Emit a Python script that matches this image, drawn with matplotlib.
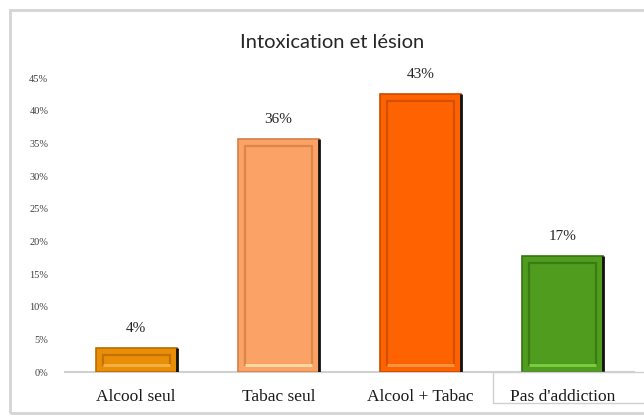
import matplotlib
matplotlib.use("Agg")
import matplotlib.pyplot as plt
from matplotlib.patches import Rectangle
import numpy as np

categories = ["Alcool seul", "Tabac seul", "Alcool + Tabac", "Pas d'addiction"]
values = [3.7, 35.7, 42.6, 17.8]
value_labels = ["4%", "36%", "43%", "17%"]
yticks = [0, 5, 10, 15, 20, 25, 30, 35, 40, 45]

face_colors = ["#EA8E08", "#FBA366", "#FF6200", "#4F9C1E"]
edge_colors = ["#B86C00", "#D47F45", "#C94C00", "#357510"]
light_colors = ["#F3B040", "#FFD9A0", "#FF9440", "#78CC40"]

W, H = 644, 416
fig = plt.figure(figsize=(W / 100, H / 100), dpi=100)

# outer chart border
fig.patches.append(Rectangle((10 / W, 3 / H), (W + 20) / W, (H - 13) / H,
                             transform=fig.transFigure, fill=False,
                             edgecolor="#D4D4D4", linewidth=2.0, zorder=0))

ax = fig.add_axes([65 / W, 44 / H, (634 - 65) / W, (372 - 78) / H])
x = np.arange(len(categories))
bw = 0.57
bars = ax.bar(x, values, width=bw, color=face_colors, edgecolor=edge_colors,
              linewidth=1.2, zorder=2)

# bevel decoration derived from bar geometry
for b, ec, lc in zip(bars, edge_colors, light_colors):
    bx, by, bwid, bh = b.get_x(), b.get_y(), b.get_width(), b.get_height()
    insx = 0.05
    insy = min(1.1, bh * 0.3)
    ax.add_patch(Rectangle((bx + insx, by + insy), bwid - 2 * insx, bh - 2 * insy,
                           fill=False, edgecolor=ec, linewidth=1.6, alpha=0.8,
                           zorder=3))
    ax.plot([bx + insx, bx + bwid - insx], [by + insy, by + insy], color=lc,
            linewidth=2.2, zorder=4, solid_capstyle="butt")
    ax.plot([bx + bwid, bx + bwid], [by, by + bh], color="#111111",
            linewidth=2.0, zorder=5, solid_capstyle="butt")

for xi, v, lab in zip(x, values, value_labels):
    ax.annotate(lab, (xi, v), xytext=(0, 14), textcoords="offset points",
                ha="center", va="center", fontsize=11, color="#262626",
                family="Liberation Serif", annotation_clip=False)

ax.set_xlim(-0.5, len(categories) - 0.5)
ax.set_ylim(0, 45)
ax.set_yticks(yticks)
ax.set_yticklabels([f"{t}%" for t in yticks], family="Liberation Serif",
                   fontsize=7.5, color="#404040")
ax.set_xticks(x)
ax.set_xticklabels(categories, family="Liberation Serif", fontsize=12.5,
                   color="#1A1A1A")
ax.tick_params(axis="y", length=0, pad=12)
ax.tick_params(axis="x", length=0, pad=12)
for s in ["top", "right", "left"]:
    ax.spines[s].set_visible(False)
ax.spines["bottom"].set_color("#D0D0D0")
ax.spines["bottom"].set_linewidth(1.5)
ax.spines["bottom"].set_zorder(1)

# box around the last category label
fig.patches.append(Rectangle((493 / W, (H - 403) / H), 170 / W, 31 / H,
                             transform=fig.transFigure, facecolor="none",
                             edgecolor="#D0D0D0", linewidth=1.0, zorder=1))

fig.text(332 / W, 1 - 42 / H, "Intoxication et lésion", ha="center", va="center",
         fontsize=14.5, family="Lato", color="#262626")

fig.savefig("out.png", dpi=100)
